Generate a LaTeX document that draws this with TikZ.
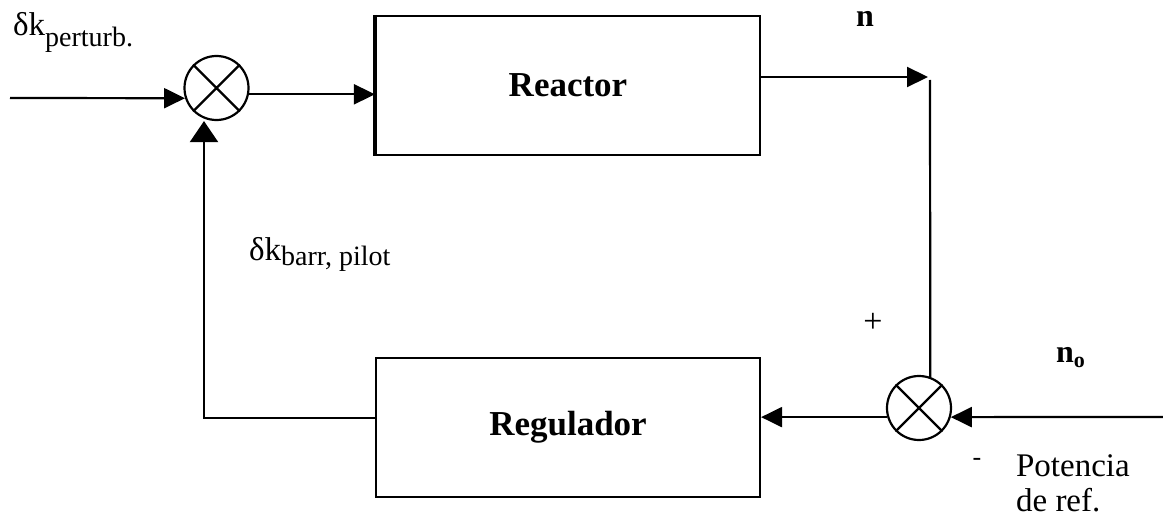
\documentclass[tikz,border=0pt]{standalone}
\usepackage{fontspec}
\setmainfont{Liberation Serif}
\usetikzlibrary{arrows.meta}
\begin{document}
\begin{tikzpicture}[x=1pt,y=-1pt, line width=2.2pt,
  arr/.style={-{Triangle[length=21pt,width=20pt]}},
  arrwide/.style={-{Triangle[length=21pt,width=28pt]}},
  blockbox/.style={draw, rectangle, minimum width=384pt, minimum height=139pt, inner sep=0pt, font=\fontsize{35}{40}\selectfont\bfseries},
  sumnode/.style={draw, circle, minimum size=64pt, inner sep=0pt},
  lbl/.style={inner sep=0pt, font=\fontsize{33}{38}\selectfont},
  sublbl/.style={inner sep=0pt, font=\fontsize{32}{34}\selectfont\bfseries}]
\useasboundingbox (0,0) rectangle (1163,519);

% blocks
\node[blockbox] (R) at (568,85.5) {Reactor};
\draw[line width=4.5pt] (R.north west) -- (R.south west);
\node[blockbox] (G) at (568,427.5) {Regulador};

% summing junctions
\node[sumnode] (sL) at (216.5,88) {};
\draw (sL.45) -- (sL.225) (sL.135) -- (sL.315);
\node[sumnode] (sR) at (919,408) {};
\draw (sR.45) -- (sR.225) (sR.135) -- (sR.315);

% coordinates
\coordinate (in) at (10,98);
\coordinate (nend) at (928,77);
\coordinate (ntop) at (930,80);
\coordinate (noin) at (1163,417);
\coordinate (fb) at (204,418);

% connectors
\draw[arr] (in) -- (sL.198);
\draw[arr] (sL.349) -- (sL.349 -| R.west);
\draw[arr] (R.east |- nend) -- (nend);
\draw (ntop) -- (sR.70);
\draw[arr] (noin) -- (sR.344);
\draw[arr] (sR.196) -- (sR.196 -| G.east);
\draw[arrwide] (G.west |- fb) -- (fb) -- (fb |- sL.south);

% labels
\node[lbl, anchor=base west] (dkp) at (12,36) {δk\raisebox{-11pt}{\fontsize{28}{30}\selectfont perturb.}};
\node[lbl, anchor=base west] (dkb) at (248,260) {δk\raisebox{-5pt}{\fontsize{28}{30}\selectfont barr, pilot}};
\node[sublbl, anchor=base] (nlbl) at (865,27) {n};
\node[sublbl, anchor=base west] (nolbl) at (1055,362) {n\raisebox{-5pt}{\fontsize{22}{24}\selectfont o}};
\node[inner sep=0pt, font=\fontsize{34}{34}\selectfont] (plus) at (873,323) {+};
\node[inner sep=0pt, font=\fontsize{26}{26}\selectfont] (minus) at (977,462) {-};
\node[lbl, anchor=base west] (pot1) at (1015,476) {Potencia};
\node[lbl, anchor=base west] (pot2) at (1015,511) {de ref.};
\end{tikzpicture}
\end{document}
